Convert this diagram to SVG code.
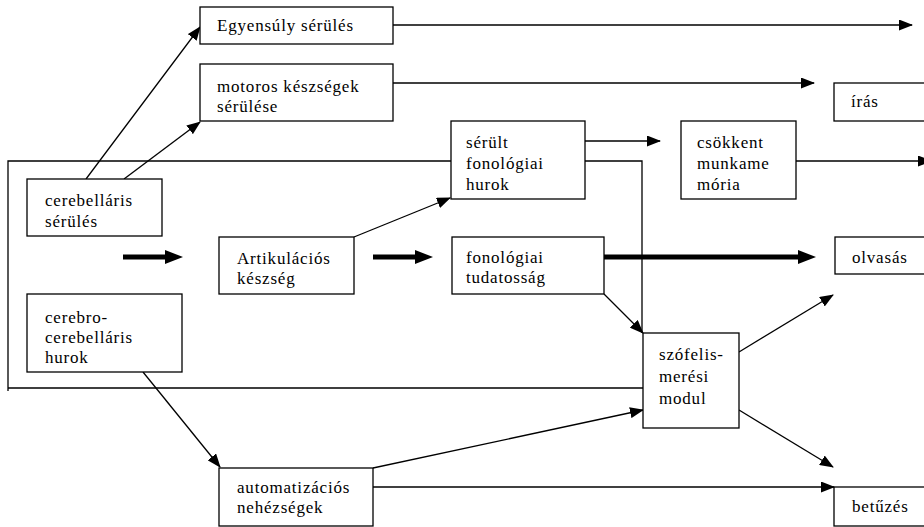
<svg xmlns="http://www.w3.org/2000/svg" width="924" height="527" viewBox="0 0 924 527">
<style>
.box{fill:#fff;stroke:#000;stroke-width:1.3}
.ln{fill:none;stroke:#000;stroke-width:1.3}
.th{fill:none;stroke:#000;stroke-width:5}
text{font-family:'Liberation Serif','Times New Roman',serif;font-size:17px;letter-spacing:0.8px;fill:#000}
</style>
<defs>
<marker id="a" markerWidth="14" markerHeight="11" refX="13" refY="5.5" orient="auto" markerUnits="userSpaceOnUse"><path d="M0,0 L14,5.5 L0,11 z"/></marker>
<marker id="b" markerWidth="18" markerHeight="14" refX="0" refY="7" orient="auto" markerUnits="userSpaceOnUse"><path d="M0,0 L18,7 L0,14 z"/></marker>
</defs>
<g id="frame">
<path class="ln" d="M8,391 L8,161 L451,161 M585,161 L642,161 L642,333 M8,388 L643,388"/>
</g>
<g id="connectors">
<line class="ln" x1="86" y1="179" x2="200" y2="27" marker-end="url(#a)"/>
<line class="ln" x1="124" y1="179" x2="200" y2="122" marker-end="url(#a)"/>
<line class="ln" x1="393" y1="25" x2="912" y2="25" marker-end="url(#a)"/>
<line class="ln" x1="393" y1="83" x2="814" y2="83" marker-end="url(#a)"/>
<line class="ln" x1="585" y1="141" x2="660" y2="141" marker-end="url(#a)"/>
<line class="ln" x1="796" y1="161" x2="931" y2="161" marker-end="url(#a)"/>
<line class="ln" x1="354" y1="237" x2="450" y2="198" marker-end="url(#a)"/>
<line class="th" x1="123" y1="257" x2="165" y2="257" marker-end="url(#b)"/>
<line class="th" x1="373" y1="257" x2="415" y2="257" marker-end="url(#b)"/>
<line class="th" x1="604" y1="257" x2="798" y2="257" marker-end="url(#b)"/>
<line class="ln" x1="604" y1="294" x2="643" y2="333" marker-end="url(#a)"/>
<line class="ln" x1="739" y1="352" x2="833" y2="295" marker-end="url(#a)"/>
<line class="ln" x1="739" y1="410" x2="833" y2="467" marker-end="url(#a)"/>
<line class="ln" x1="143" y1="372" x2="220" y2="467" marker-end="url(#a)"/>
<line class="ln" x1="373" y1="468" x2="643" y2="410" marker-end="url(#a)"/>
<line class="ln" x1="373" y1="487" x2="834" y2="487" marker-end="url(#a)"/>
</g>
<g font-family="Liberation Serif" font-size="17" letter-spacing="0.8">
<g id="egyensuly"><rect class="box" x="200" y="7" width="193" height="37"/><text x="217" y="31">Egyensúly sérülés</text></g>
<g id="motoros"><rect class="box" x="200" y="64" width="193" height="57"/><text x="217" y="92">motoros készségek</text><text x="217" y="112">sérülése</text></g>
<g id="cerebellaris"><rect class="box" x="27" y="179" width="135" height="57"/><text x="45" y="206">cerebelláris</text><text x="45" y="227">sérülés</text></g>
<g id="cerebro"><rect class="box" x="27" y="294" width="155" height="78"/><text x="45" y="323">cerebro-</text><text x="45" y="343">cerebelláris</text><text x="45" y="363">hurok</text></g>
<g id="artikulacios"><rect class="box" x="219" y="237" width="135" height="57"/><text x="237" y="264">Artikulációs</text><text x="237" y="284">készség</text></g>
<g id="serult"><rect class="box" x="451" y="121" width="134" height="78"/><text x="466" y="148">sérült</text><text x="466" y="169">fonológiai</text><text x="466" y="190">hurok</text></g>
<g id="fonologiai"><rect class="box" x="452" y="237" width="152" height="57"/><text x="466" y="263">fonológiai</text><text x="466" y="283">tudatosság</text></g>
<g id="csokkent"><rect class="box" x="681" y="121" width="115" height="78"/><text x="697" y="148">csökkent</text><text x="697" y="169">munkame</text><text x="697" y="190">mória</text></g>
<g id="iras"><rect class="box" x="834" y="83" width="95" height="38"/><text x="851" y="107">írás</text></g>
<g id="olvasas"><rect class="box" x="835" y="237" width="95" height="37"/><text x="852" y="263">olvasás</text></g>
<g id="szofelis"><rect class="box" x="643" y="333" width="96" height="95"/><text x="659" y="360">szófelis-</text><text x="659" y="382">merési</text><text x="659" y="404">modul</text></g>
<g id="automatizacios"><rect class="box" x="219" y="468" width="154" height="58"/><text x="237" y="493">automatizációs</text><text x="237" y="513">nehézségek</text></g>
<g id="betuzes"><rect class="box" x="834" y="487" width="95" height="39"/><text x="852" y="512">betűzés</text></g>
</g>
</svg>
